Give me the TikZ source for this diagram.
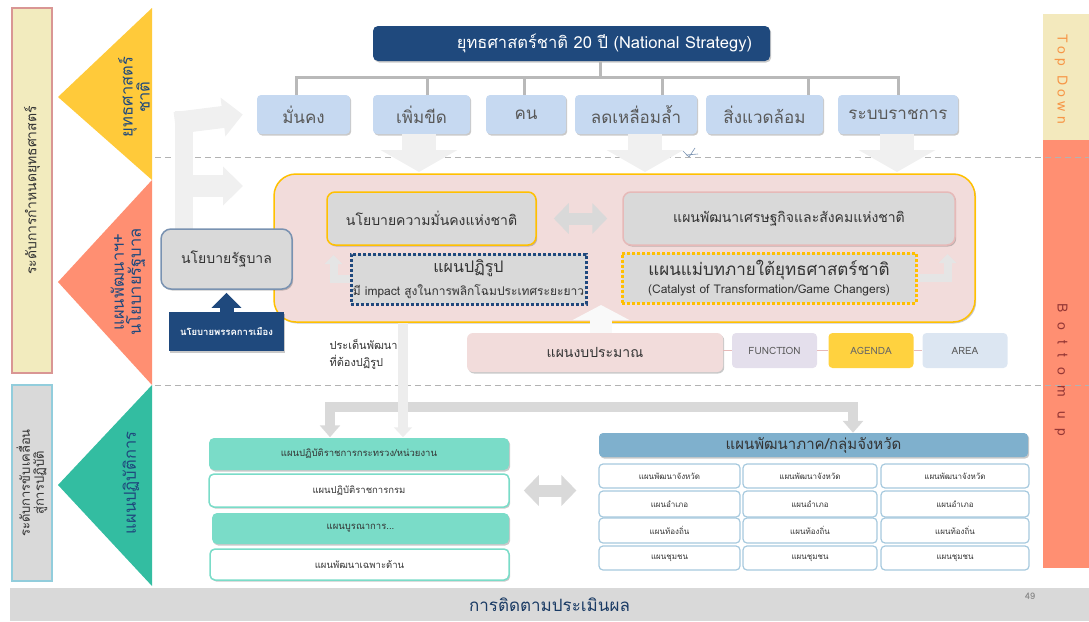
\documentclass[tikz,border=0pt]{standalone}
\usepackage{fontspec}
\setmainfont{Loma}[Script=Thai]
\usetikzlibrary{arrows.meta,shadows}

\definecolor{navy}{HTML}{1F497D}
\definecolor{goalblue}{HTML}{C6D9F1}
\definecolor{goaltxt}{HTML}{595959}
\definecolor{txtdark}{HTML}{333333}
\definecolor{pinkbg}{HTML}{F2DCDB}
\definecolor{gold}{HTML}{FFC000}
\definecolor{pinkbd}{HTML}{E6B9B8}
\definecolor{greyD}{HTML}{D9D9D9}
\definecolor{pale}{HTML}{F0F0F0}
\definecolor{trisal}{HTML}{FF8F72}
\definecolor{triyel}{HTML}{FFCA3A}
\definecolor{trigrn}{HTML}{33BDA1}
\definecolor{lvlyel}{HTML}{F2EBBE}
\definecolor{lvlpink}{HTML}{D99694}
\definecolor{lvlblue}{HTML}{92CDDC}
\definecolor{sideyel}{HTML}{F3E9BD}
\definecolor{sideorg}{HTML}{F79646}
\definecolor{sidered}{HTML}{953735}
\definecolor{teal}{HTML}{7ADCC8}
\definecolor{gridbd}{HTML}{A6C9DE}
\definecolor{regblue}{HTML}{7FB0CD}
\definecolor{fnpurp}{HTML}{E4DFEC}
\definecolor{agold}{HTML}{FFD23F}
\definecolor{areab}{HTML}{DCE6F2}

% font size, and a fixed line distance for Thai marks
\newcommand\fsz[2]{\fontsize{#1}{#2}\selectfont\lineskiplimit=-100pt}

\tikzset{
    softshadow/.style={drop shadow={shadow xshift=1.2pt,shadow yshift=-1.5pt,opacity=.3,fill=black!70}},
    % boxes of the plan levels
    lvlbox/.style={rotate=90, minimum height=40pt, inner sep=0pt, line width=1.5pt,
        align=center, text=txtdark, font=\fsz{14}{16}},
    tritxt/.style={rotate=90, align=center, text=navy, font=\fsz{16.5}{20}},
    sidebar/.style={rotate=-90, minimum height=46pt, inner sep=0pt},
    goal/.style={fill=goalblue, rounded corners=4pt, minimum height=39pt, inner sep=0pt,
        text=goaltxt, font=\fsz{17}{19}, softshadow},
    plan/.style={fill=greyD, rounded corners=8pt, line width=1.5pt, inner sep=0pt,
        text=txtdark, font=\fsz{14}{16}, softshadow},
    dotbox/.style={fill=greyD, line width=3pt, dash pattern=on 3pt off 2pt, inner sep=0pt,
        align=center, text=txtdark},
    tag/.style={rounded corners=4pt, minimum width=85pt, minimum height=35pt, inner sep=0pt,
        text=goaltxt, font=\fsz{10}{12}},
    act/.style={rounded corners=5pt, minimum height=31pt, inner sep=0pt, line width=1.5pt,
        text=txtdark, font=\fsz{9.5}{11}, softshadow},
    cell/.style={fill=white, draw=gridbd, rounded corners=4pt, line width=1.2pt, inner sep=0pt,
        text=txtdark, font=\fsz{8}{9}},
}

\begin{document}
\begin{tikzpicture}[x=1pt,y=-1pt,
        sep/.style={gray!60, line width=.8pt, dash pattern=on 6pt off 4pt},
        tree/.style={gray!55, line width=3pt},
        fatdown/.style={line width=34pt, pale, -{Triangle[width=76pt,length=22pt]}},
        fatright/.style={line width=22pt, pale, -{Triangle[width=38pt,length=20pt]}},
        fatup/.style={line width=22pt, white!95!gray, -{Triangle[width=56pt,length=15pt]}},
        hookarr/.style={line width=8pt, black!10, -{Triangle[width=17pt,length=9pt]}},
        dbl/.style={line width=12pt, greyD, {Triangle[width=30pt,length=15pt]}-{Triangle[width=30pt,length=15pt]}},
        fork/.style={line width=10pt, greyD, {Triangle[width=20pt,length=12pt]}-{Triangle[width=20pt,length=12pt]}},
        thinfat/.style={line width=10pt, black!7, -{Triangle[width=18pt,length=10pt]}},
    ]
    \useasboundingbox (0,0) rectangle (1089,621);

    % levels on the left
    \node[lvlbox, fill=lvlyel, draw=lvlpink, minimum width=365pt] (lvA) at (32,190.5) {ระดับการกำหนดยุทธศาสตร์};
    \node[lvlbox, fill=greyD, draw=lvlblue, minimum width=196pt, font=\fsz{13}{16}] (lvB) at (32,483) {ระดับการขับเคลื่อน\\[-2pt]สู่การปฏิบัติ};

    \fill[triyel] (152,8) -- (58,97) -- (152,180) -- cycle;
    \fill[trisal] (152,180) -- (58,282) -- (152,385) -- cycle;
    \fill[trigrn] (152,385) -- (58,485) -- (152,586) -- cycle;
    \node[tritxt] (tA) at (134,97) {ยุทธศาสตร์\\[-3pt]ชาติ};
    \node[tritxt] (tB) at (128,282) {แผนพัฒนาฯ+\\[-3pt]นโยบายรัฐบาล};
    \node[tritxt] (tC) at (131,483) {แผนปฏิบัติการ};

    % bars on the right
    \node[sidebar, fill=sideyel, minimum width=126pt] (td) at (1066,77) {};
    \node[sidebar, fill=trisal, minimum width=428pt] (bu) at (1066,354) {};
    \node[rotate=-90, text=sideorg, font=\fsz{14}{16}\addfontfeatures{LetterSpace=30}] (tdl) at (1061,79) {Top Down};
    \node[rotate=-90, text=sidered, font=\fsz{14}{16}\addfontfeatures{LetterSpace=70}] (bul) at (1061,370) {Bottom up};

    \draw[sep] (155,157) -- (1089,157);
    \draw[sep] (155,385) -- (1089,385);

    % national strategy
    \node[fill=navy, text=white, rounded corners=5pt, minimum width=397pt, minimum height=35pt,
        font=\fsz{16.5}{18}, softshadow] (ttl) at (571.5,43.5) {\hspace*{66pt}ยุทธศาสตร์ชาติ 20 ปี (National Strategy)};
    \foreach \n/\cx/\w/\t in {g1/303.5/93/มั่นคง, g2/421.5/97/เพิ่มขีด, g3/526/80/คน,
        g4/636/122/ลดเหลื่อมล้ำ, g5/764.5/117/สิ่งแวดล้อม, g6/898/120/ระบบราชการ}
        \node[goal, minimum width=\w pt] (\n) at (\cx,114.5) {\t};

    \draw[tree] ([xshift=29pt]ttl.south) -- ++(0,17);
    \draw[tree] ([xshift=-7.5pt]g1.north) -- ++(0,-17) -| (g6.north);
    \foreach \n/\dx in {g2/5.5, g3/-2, g4/26, g5/43.5}
        \draw[tree] ([xshift=\dx pt]\n.north) -- ++(0,-17);

    % big grey arrows
    \coordinate (a2) at (419,0);
    \coordinate (a4) at (645,0);
    \coordinate (a6) at (897,0);
    \foreach \a in {a2,a4,a6}
        \draw[fatdown] (\a |- g1.south) -- (\a |- 0,172);
    \coordinate (eb) at (184,232);
    \draw[line width=18pt, pale] (eb) -- (184,111);
    \draw[fatright] (175,123) -- ([xshift=-14pt]g1.west);
    \draw[fatright] (175,186) -- (243,186);

    % plans
    \node[draw=gold, fill=pinkbg, line width=1.5pt, rounded corners=22pt, minimum width=701pt,
        minimum height=148pt, softshadow] (pb) at (624.5,248) {};
    \node[plan, draw=gold, minimum width=209pt, minimum height=53pt] (nsec) at (431.5,218.5) {นโยบายความมั่นคงแห่งชาติ};
    \node[plan, draw=pinkbd, minimum width=332pt, minimum height=53pt] (nesd) at (789,218.5) {แผนพัฒนาเศรษฐกิจและสังคมแห่งชาติ};
    \draw[dbl, shorten <=17pt, shorten >=15pt] (nsec.east) -- (nesd.west);
    \node[dotbox, draw=navy, minimum width=235pt, minimum height=50pt] (rfm) at (468.5,279)
        {{\fsz{16}{16}แผนปฏิรูป}\\[7pt]{\fsz{12}{12}มี impact สูงในการพลิกโฉมประเทศระยะยาว}};
    \node[dotbox, draw=gold, minimum width=294pt, minimum height=50pt] (mst) at (769,278)
        {{\fsz{17}{17}แผนแม่บทภายใต้ยุทธศาสตร์ชาติ}\\[4pt]{\fsz{12}{12}(Catalyst of Transformation/Game Changers)}};
    \draw[hookarr] (rfm.west) -| ++(-16,-24);
    \draw[hookarr] (mst.east) -| ++(30,-24);

    \node[plan, draw=navy!60!white, rounded corners=10pt, minimum width=131pt, minimum height=60pt] (gov) at (226.5,259) {นโยบายรัฐบาล};
    \node[fill=navy, text=white, minimum width=115pt, minimum height=39pt, inner sep=0pt,
        font=\bfseries\fsz{9.5}{11}, softshadow] (pty) at (226.5,331.5) {นโยบายพรรคการเมือง};
    \draw[line width=14pt, navy, -{Triangle[width=29pt,length=15pt]}, shorten >=3pt] (pty.north) -- (gov.south);

    \node[anchor=west, align=left, text=txtdark, font=\fsz{11}{17}] (iss) at (326,354.5) {ประเด็นพัฒนา\\ที่ต้องปฏิรูป};

    % budget
    \coordinate (bt) at (601,305);
    \node[fill=pinkbg, rounded corners=6pt, minimum width=256pt, minimum height=39pt, inner sep=0pt,
        text=txtdark, font=\fsz{14}{16}, softshadow] (bud) at (595,352.5) {แผนงบประมาณ};
    \draw[fatup] (bud.north -| bt) -- (bt);
    \node[tag, fill=fnpurp] (fn) at (774.5,350.5) {FUNCTION};
    \node[tag, fill=agold, text=black!60] (ag) at (871,350.5) {AGENDA};
    \node[tag, fill=areab] (ar) at (965,350.5) {AREA};
    \draw[pinkbd, line width=1.5pt] (bud.east |- fn.west) -- (fn.west) (fn.east) -- (ag.west) (ag.east) -- (ar.west);

    % action plans
    \node[act, fill=teal, minimum width=300pt, minimum height=32pt] (act1) at (359,454) {แผนปฏิบัติราชการกระทรวง/หน่วยงาน};
    \node[act, fill=white, draw=teal, minimum width=300pt, minimum height=33pt] (act2) at (359,490.5) {แผนปฏิบัติราชการกรม};
    \node[act, fill=teal, minimum width=297pt] (act3) at (360.5,528.5) {แผนบูรณาการ...};
    \node[act, fill=white, draw=teal, minimum width=299pt] (act4) at (359.5,564.5) {แผนพัฒนาเฉพาะด้าน};

    \node[fill=regblue, rounded corners=4pt, minimum width=429pt, minimum height=24pt, inner sep=0pt,
        text=txtdark, font=\fsz{15}{17}, softshadow] (reg) at (813.5,445) {แผนพัฒนาภาค/กลุ่มจังหวัด};
    \foreach \c/\cx/\w in {1/669.5/141, 2/810/134, 3/955/148}
        \foreach \r/\ry/\h/\t in {1/476/24/แผนพัฒนาจังหวัด, 2/504/26/แผนอำเภอ, 3/530.5/25/แผนท้องถิ่น, 4/558/24/แผนชุมชน}
            \node[cell, minimum width=\w pt, minimum height=\h pt] (r\r\c) at (\cx,\ry) {\t};

    \coordinate (fl) at (330,0);
    \coordinate (fr) at (853,407);
    \coordinate (vx) at (403,0);
    \draw[fork] (act1.north -| fl) |- (fr) -- (reg.north -| fr);
    \draw[thinfat] (pb.south -| vx) -- (act1.north -| vx);
    \draw[dbl, shorten <=14pt, shorten >=22pt] (act2.east) -- (act2.east -| r21.west);

    \draw[navy!60!white, line width=.6pt] (683,151) -- (689,157) -- (695,148) (686,155) -- (698,154);

    % follow-up
    \node[fill=greyD, minimum width=1079pt, minimum height=33pt, inner sep=0pt,
        text=navy!80!black, font=\fsz{17}{19}] (fol) at (549.5,604.5) {การติดตามประเมินผล};
    \node[text=gray, font=\fsz{9}{10}] (pg) at (1030,596) {49};
\end{tikzpicture}
\end{document}
